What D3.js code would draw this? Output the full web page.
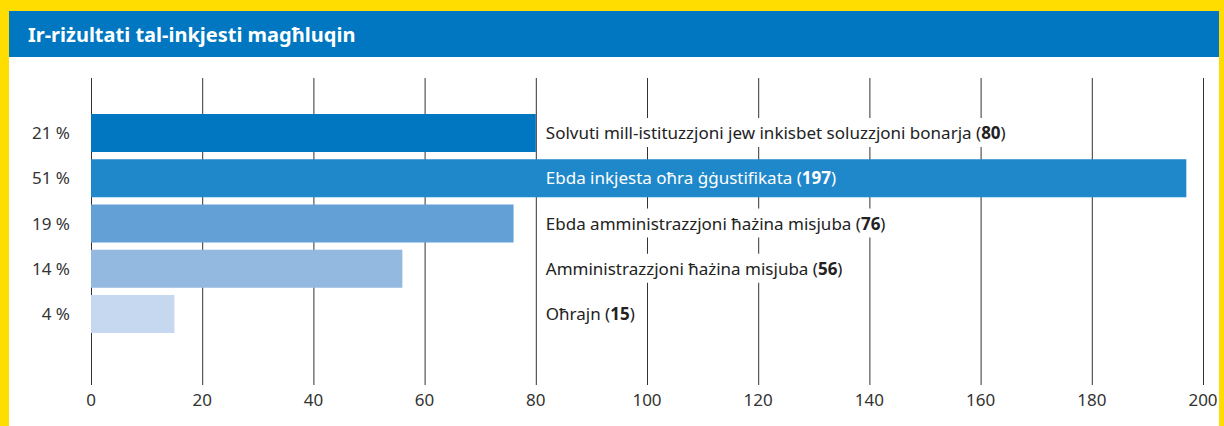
<!DOCTYPE html>
<html>
<head>
<meta charset="utf-8">
<script src="https://cdn.jsdelivr.net/npm/d3@7"></script>
<style>
  body { margin: 0; background: #ffdd00; }
  svg { display: block; }
  text { font-family: "Noto Sans", "Open Sans", sans-serif; }
</style>
</head>
<body>
<div id="chart"></div>
<script>
// data
var title = "Ir-riżultati tal-inkjesti magħluqin";
var labels = [
    "Solvuti mill-istituzzjoni jew inkisbet soluzzjoni bonarja",
    "Ebda inkjesta oħra ġġustifikata",
    "Ebda amministrazzjoni ħażina misjuba",
    "Amministrazzjoni ħażina misjuba",
    "Oħrajn"
];
var counts = [80, 197, 76, 56, 15];
var shares = ["21 %", "51 %", "19 %", "14 %", "4 %"];
var barColors = ["#0077c0", "#1f88cb", "#62a0d6", "#94b9e0", "#c6d8ef"];
var ticks = [0, 20, 40, 60, 80, 100, 120, 140, 160, 180, 200];

var W = 1224, H = 426;
var svg = d3.select("#chart").append("svg").attr("width", W).attr("height", H);

// yellow frame + white panel + blue header
svg.append("rect").attr("width", W).attr("height", H).attr("fill", "#ffdd00");
svg.append("rect").attr("x", 9).attr("y", 11).attr("width", 1210).attr("height", H - 11).attr("fill", "#fff");
svg.append("rect").attr("x", 9).attr("y", 11).attr("width", 1210).attr("height", 46).attr("fill", "#0077c0");
svg.append("text").attr("x", 28).attr("y", 42)
    .attr("fill", "#fff").attr("font-size", 20).attr("font-weight", "bold")
    .text(title);

var x = d3.scaleLinear().domain([0, 200]).range([91, 1203]);
var y = d3.scaleBand().domain(d3.range(labels.length)).range([114, 333]).paddingInner(0.16).paddingOuter(0);

// grid lines
svg.append("g").selectAll("line").data(ticks).enter().append("line")
    .attr("x1", function (d) { return x(d) + 0.5; })
    .attr("x2", function (d) { return x(d) + 0.5; })
    .attr("y1", 78).attr("y2", 385)
    .attr("stroke", "#333").attr("stroke-width", 1);

// x tick labels
svg.append("g").selectAll("text").data(ticks).enter().append("text")
    .attr("x", function (d) { return x(d); })
    .attr("y", 406)
    .attr("text-anchor", "middle")
    .attr("font-size", 17).attr("fill", "#333")
    .text(function (d) { return d; });

// bars
svg.append("g").selectAll("rect").data(counts).enter().append("rect")
    .attr("x", x(0))
    .attr("y", function (d, i) { return y(i); })
    .attr("width", function (d) { return x(d) - x(0); })
    .attr("height", y.bandwidth())
    .attr("fill", function (d, i) { return barColors[i]; });

// percentage labels
svg.append("g").selectAll("text").data(shares).enter().append("text")
    .attr("x", 70)
    .attr("y", function (d, i) { return y(i) + y.bandwidth() / 2 + 6; })
    .attr("text-anchor", "end")
    .attr("font-size", 17).attr("fill", "#333")
    .text(function (d) { return d; });

// category labels (white box behind those outside the bar, cutting the grid)
var bgLayer = svg.append("g");
var lab = svg.append("g").selectAll("text").data(labels).enter().append("text")
    .attr("x", x(80) + 10)
    .attr("y", function (d, i) { return y(i) + y.bandwidth() / 2 + 6; })
    .attr("font-size", 17)
    .attr("fill", function (d, i) { return counts[i] > 80 ? "#fff" : "#222"; });
lab.append("tspan").text(function (d) { return d + " ("; });
lab.append("tspan").attr("font-weight", "bold").text(function (d, i) { return counts[i]; });
lab.append("tspan").text(")");

lab.each(function (d, i) {
    if (counts[i] > 80) return;
    var b = this.getBBox();
    bgLayer.append("rect")
        .attr("x", b.x - 3)
        .attr("y", y(i) + 4)
        .attr("width", b.width + 6)
        .attr("height", y.bandwidth() - 9)
        .attr("fill", "#fff");
});
</script>
</body>
</html>
